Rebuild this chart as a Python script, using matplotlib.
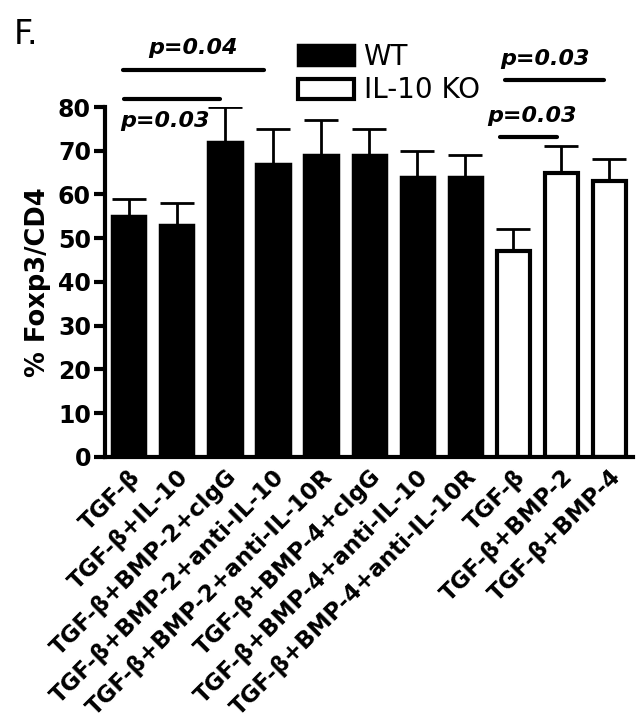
import matplotlib
matplotlib.use("Agg")
import matplotlib.pyplot as plt
import numpy as np

# data
labels = ["TGF-β", "TGF-β+IL-10", "TGF-β+BMP-2+cIgG", "TGF-β+BMP-2+anti-IL-10",
          "TGF-β+BMP-2+anti-IL-10R", "TGF-β+BMP-4+cIgG", "TGF-β+BMP-4+anti-IL-10",
          "TGF-β+BMP-4+anti-IL-10R", "TGF-β", "TGF-β+BMP-2", "TGF-β+BMP-4"]
wt_mean = [55, 53, 72, 67, 69, 69, 64, 64]
wt_err = [4, 5, 8, 8, 8, 6, 6, 5]
ko_mean = [47, 65, 63]
ko_err = [5, 6, 5]

fig = plt.figure(figsize=(6.43, 7.23), dpi=100)
ax = fig.add_axes([0.163, 0.368, 0.822, 0.484])

x_wt = np.arange(len(wt_mean))
x_ko = np.arange(len(wt_mean), len(wt_mean) + len(ko_mean))
w = 0.69

ax.bar(x_wt, wt_mean, width=w, color="black", edgecolor="black", linewidth=2.5,
       label="WT", zorder=2)
ax.bar(x_ko, ko_mean, width=w, color="white", edgecolor="black", linewidth=3,
       label="IL-10 KO", zorder=2)
ax.errorbar(x_wt, wt_mean, yerr=[np.zeros(len(wt_err)), wt_err], fmt="none",
            ecolor="black", elinewidth=2, capsize=12, capthick=2, zorder=1)
ax.errorbar(x_ko, ko_mean, yerr=[np.zeros(len(ko_err)), ko_err], fmt="none",
            ecolor="black", elinewidth=2, capsize=12, capthick=2, zorder=1)

ax.set_xlim(-0.5, 10.5)
ax.set_ylim(0, 80)
ax.set_yticks(range(0, 81, 10))
ax.set_xticks(np.arange(len(labels)))
ax.set_xticklabels(labels, rotation=45, ha="right", rotation_mode="anchor",
                   fontsize=16.5, fontweight="bold")
ax.tick_params(axis="x", length=0, pad=6)
ax.tick_params(axis="y", length=8, width=3, labelsize=17, pad=2)
for t in ax.get_yticklabels():
    t.set_fontweight("bold")
for s in ["top", "right"]:
    ax.spines[s].set_visible(False)
for s in ["left", "bottom"]:
    ax.spines[s].set_linewidth(3)

ax.set_ylabel("% Foxp3/CD4", fontsize=18.5, fontweight="bold", labelpad=5)

# significance bars
sig = [(-0.13, 2.81, 88.5, 1.33, 93.5, "p=0.04"),
       (-0.1, 1.9, 81.8, 0.75, 76.8, "p=0.03"),
       (7.83, 9.88, 86.2, 8.67, 91.0, "p=0.03"),
       (7.73, 8.92, 73.2, 8.4, 78.0, "p=0.03")]
for x0, x1, y, tx, ty, txt in sig:
    ax.plot([x0, x1], [y, y], color="black", lw=3, clip_on=False,
            solid_capstyle="round")
    ax.text(tx, ty, txt, ha="center", va="center", fontsize=16,
            fontweight="bold", style="italic", clip_on=False)

ax.legend(loc="upper left", bbox_to_anchor=(0.345, 1.215), frameon=False,
          fontsize=20, handlelength=2.0, handleheight=0.75, borderaxespad=0,
          labelspacing=0.2, handletextpad=0.35)

fig.text(0.022, 0.975, "F.", fontsize=24, va="top", ha="left")

fig.savefig("out.png", dpi=100)
